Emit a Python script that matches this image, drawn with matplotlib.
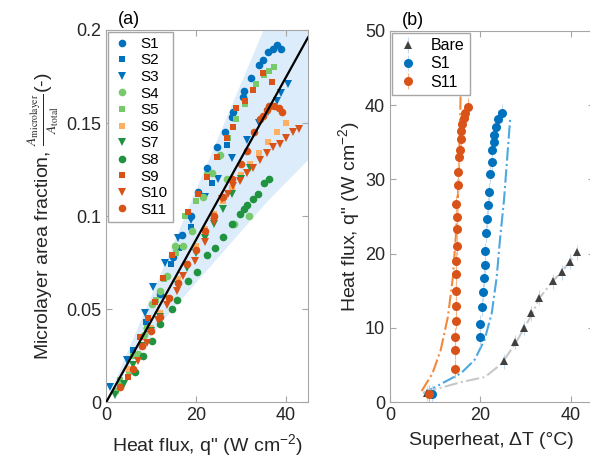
import matplotlib
matplotlib.use('Agg')
import matplotlib.pyplot as plt
import numpy as np

plt.rcParams['font.family'] = ['Liberation Sans', 'DejaVu Sans']
plt.rcParams['mathtext.fontset'] = 'custom'
plt.rcParams['mathtext.rm'] = 'Liberation Sans'
plt.rcParams['mathtext.it'] = 'Liberation Sans:italic'

# ---- panel (a) data: microlayer area fraction vs heat flux ----
s1_x = [9, 12, 15, 17, 19, 20.5, 22.4, 24.7, 26.4, 28, 28.2, 30.4, 30.7, 32.4, 34, 34.9, 36, 37.1, 38, 38.9]
s1_y = [0.040, 0.058, 0.078, 0.090, 0.100, 0.113, 0.126, 0.137, 0.145, 0.153, 0.156, 0.164, 0.167, 0.174, 0.181, 0.184, 0.188, 0.190, 0.192, 0.190]
s2_x = [6, 8.9, 12, 14.5, 16.3, 19, 23.5, 27]
s2_y = [0.028, 0.043, 0.058, 0.074, 0.083, 0.094, 0.118, 0.138]
s3_x = [0.9, 4.7, 8.7, 10.4, 13.1, 16, 19, 22, 25, 28, 31.3, 34, 36, 38, 39, 40.5]
s3_y = [0.008, 0.0226, 0.048, 0.062, 0.075, 0.088, 0.098, 0.110, 0.120, 0.131, 0.141, 0.150, 0.156, 0.162, 0.166, 0.171]
s4_x = [2, 3.1, 5, 7, 8.5, 10.2, 12, 13.5, 15.3, 17.1, 19.1, 21.5, 23.6, 25.3, 27, 28.5, 31.8]
s4_y = [0.006, 0.010, 0.017, 0.026, 0.036, 0.053, 0.060, 0.068, 0.084, 0.084, 0.092, 0.110, 0.123, 0.133, 0.120, 0.096, 0.100]
s5_x = [3, 6, 9, 11, 13, 15.5, 17.6, 20, 22.5, 25, 27.1, 29, 30.9, 33.5, 35.3, 36.4, 37.5]
s5_y = [0.012, 0.025, 0.040, 0.055, 0.066, 0.080, 0.100, 0.108, 0.122, 0.132, 0.142, 0.152, 0.160, 0.171, 0.176, 0.178, 0.180]
s6_x = [5, 8, 10, 12, 14, 16, 18, 20, 22, 24, 26, 28, 30, 32, 34, 36, 38, 40]
s6_y = [0.018, 0.030, 0.040, 0.048, 0.056, 0.066, 0.074, 0.084, 0.093, 0.101, 0.108, 0.115, 0.122, 0.128, 0.134, 0.140, 0.145, 0.150]
s7_x = [2, 4, 6, 8, 10, 12, 14, 16, 18, 20, 22, 24, 26, 28, 30, 32]
s7_y = [0.004, 0.010, 0.020, 0.030, 0.038, 0.046, 0.055, 0.063, 0.072, 0.080, 0.088, 0.096, 0.104, 0.112, 0.120, 0.126]
s8_x = [6.4, 8.2, 10.2, 12, 14.6, 15.8, 18.2, 20.2, 22.4, 24.2, 26, 28, 29.8, 30.7, 31.3, 32.7, 33.8, 35.3, 36.4]
s8_y = [0.016, 0.025, 0.033, 0.042, 0.050, 0.055, 0.065, 0.070, 0.079, 0.083, 0.089, 0.096, 0.101, 0.104, 0.106, 0.109, 0.112, 0.118, 0.120]
s9_x = [4.9, 7.5, 9.4, 10.9, 12.7, 14.6, 18.3, 20.5, 22.4, 24.6, 26.9, 28.3, 29, 30.9, 32.7, 35, 37]
s9_y = [0.0134, 0.035, 0.045, 0.054, 0.067, 0.079, 0.102, 0.112, 0.121, 0.132, 0.142, 0.148, 0.158, 0.162, 0.168, 0.177, 0.172]
s10_x = [7, 9, 11.6, 13.5, 15.8, 17.1, 19.8, 22, 24, 25.8, 27.1, 28.2, 29.8, 31.3, 32.7, 34.2, 35.8, 37.1, 38.7, 40.2, 41.6, 43]
s10_y = [0.022, 0.032, 0.044, 0.052, 0.060, 0.068, 0.076, 0.086, 0.097, 0.109, 0.112, 0.116, 0.119, 0.123, 0.126, 0.130, 0.134, 0.137, 0.139, 0.142, 0.145, 0.147]
s11_x = [3, 6, 8, 10, 12, 14, 16, 18, 20, 22, 24, 26, 28, 30, 31.5, 33, 34.2, 35, 35.8, 36.4, 37.5, 38.5, 39.3]
s11_y = [0.008, 0.018, 0.030, 0.038, 0.046, 0.056, 0.064, 0.074, 0.082, 0.092, 0.100, 0.110, 0.120, 0.128, 0.135, 0.145, 0.152, 0.154, 0.157, 0.159, 0.159, 0.158, 0.156]

fit_x = [0, 45]
fit_y = [0, 0.196]
band_x = [0, 3, 12, 36, 45]
band_lo = [0, 0.012, 0.042, 0.108, 0.13]
band_hi = [0, 0.017, 0.068, 0.205, 0.256]

# ---- panel (b) data: boiling curves ----
bare_x = [8.2, 25.2, 27.7, 29.7, 31.2, 33, 36, 38, 39.8, 41.3]
bare_y = [1.2, 5.5, 8.1, 10, 12, 14.1, 16.3, 17.5, 18.9, 20.2]
b1_x = [9.2, 19.8, 20.0, 20.3, 20.5, 20.7, 20.9, 21.1, 21.3, 21.5, 21.7, 21.9, 22.2, 22.5, 22.6, 22.9, 23.1, 23.4, 23.8, 24.7]
b1_y = [1.1, 8.8, 10.6, 12.8, 14.8, 16.7, 18.5, 20.3, 22.8, 24.7, 26.5, 28.3, 30.7, 32.3, 34, 35, 36, 37, 38.1, 39]
b11_x = [8.6, 14.3, 14.4, 14.4, 14.5, 14.6, 14.6, 14.7, 14.7, 14.8, 14.8, 14.8, 14.6, 15, 15.1, 15.3, 15.4, 15.6, 15.8, 16.0, 16.3, 16.6, 17.3]
b11_y = [1.1, 4.5, 7, 8.8, 11, 13, 15, 17.2, 19, 21, 23.3, 25, 26.7, 29.3, 31, 33, 34, 35.5, 36.5, 37.5, 38.3, 39.0, 39.8]

fitb11_x = [7, 9.4, 11.2, 12.8, 13.9, 14.6, 15, 15.3, 15.5, 15.7]
fitb11_y = [1.5, 3.9, 7, 11.5, 16.8, 22.8, 27, 33, 38, 44]
fitb1_x = [7.4, 12, 15.7, 18.7, 20.9, 22.5, 23.6, 24.3, 25.2, 26.6]
fitb1_y = [1.2, 2.7, 3.9, 5.7, 8.4, 12, 16.9, 21.8, 27.2, 38.4]
fitbare_x = [7.4, 15.7, 21, 24.7, 27.7, 29.7, 31.5, 33, 36, 38, 39.8, 41.5]
fitbare_y = [1.3, 2.7, 3.4, 5.2, 7.9, 10, 12, 14, 16.3, 17.6, 19, 20.2]

blue = '#0072BD'
red = '#D95319'
lgreen = '#77C96B'
dgreen = '#1F9340'
lorange = '#FDAF62'
spine = '#a6a6a6'

fig = plt.figure(figsize=(5.9, 4.76), dpi=100)
ax1 = fig.add_axes([0.180, 0.155, 0.342, 0.782])
ax2 = fig.add_axes([0.661, 0.155, 0.345, 0.780])

for ax in (ax1, ax2):
    for s in ax.spines.values():
        s.set_color(spine)
    ax.tick_params(direction='in', top=True, right=True, color=spine,
                   labelsize=13, labelcolor='#262626', length=4)

# panel a
ax1.fill_between(band_x, band_lo, band_hi, color='#dcecfb', lw=0, zorder=0)
series = [
    (s1_x, s1_y, 'o', blue, 'S1'),
    (s2_x, s2_y, 's', blue, 'S2'),
    (s3_x, s3_y, 'v', blue, 'S3'),
    (s4_x, s4_y, 'o', lgreen, 'S4'),
    (s5_x, s5_y, 's', lgreen, 'S5'),
    (s6_x, s6_y, 's', lorange, 'S6'),
    (s7_x, s7_y, 'v', dgreen, 'S7'),
    (s8_x, s8_y, 'o', dgreen, 'S8'),
    (s9_x, s9_y, 's', red, 'S9'),
    (s10_x, s10_y, 'v', red, 'S10'),
    (s11_x, s11_y, 'o', red, 'S11'),
]
for x, y, m, c, lab in series:
    ax1.plot(x, y, m, color=c, ms=5.5 if m != 's' else 4.8, mew=0, label=lab, zorder=2)
ax1.plot(fit_x, fit_y, color='k', lw=1.6, zorder=3)
ax1.set_xlim(0, 45)
ax1.set_ylim(0, 0.2)
ax1.set_xticks([0, 20, 40])
ax1.set_yticks([0, 0.05, 0.1, 0.15, 0.2])
ax1.set_yticklabels(['0', '0.05', '0.1', '0.15', '0.2'])
ax1.set_xlabel('Heat flux, q" (W cm$^{\\mathrm{-2}}$)', fontsize=14, color='#262626', labelpad=6)
ax1.set_ylabel(r'Microlayer area fraction, $\frac{A_{\mathrm{microlayer}}}{A_{\mathrm{total}}}$(-)',
               fontsize=14, color='#262626', math_fontfamily='stix', labelpad=4)
leg1 = ax1.legend(loc='upper left', fontsize=11, frameon=True, fancybox=False,
                  borderpad=0.35, labelspacing=0.17, handletextpad=0.6, handlelength=1.2,
                  borderaxespad=0.1, framealpha=1)
leg1.get_frame().set_edgecolor(spine)
ax1.text(0.06, 1.005, '(a)', transform=ax1.transAxes, fontsize=13, va='bottom')

# panel b
ax2.plot(fitb11_x, fitb11_y, '-.', color='#F4883A', lw=1.5, zorder=1)
ax2.plot(fitb1_x, fitb1_y, '-.', color='#4DA8E0', lw=1.5, zorder=1)
ax2.plot(fitbare_x, fitbare_y, '-.', color='#c8c8c8', lw=1.5, zorder=1)
ax2.errorbar(bare_x, bare_y, yerr=1.0, fmt='^', color='#404040', ms=6, mew=0,
             ecolor='#c6dbef', elinewidth=0.8, capsize=2, label='Bare', zorder=2)
ax2.errorbar(b1_x, b1_y, yerr=1.2, fmt='o', color=blue, ms=6.5, mew=0,
             ecolor='#c6dbef', elinewidth=0.8, capsize=2, label='S1', zorder=2)
ax2.errorbar(b11_x, b11_y, yerr=1.2, fmt='o', color=red, ms=6.5, mew=0,
             ecolor='#f5b58a', elinewidth=0.8, capsize=2, label='S11', zorder=3)
ax2.set_xlim(0, 45)
ax2.set_ylim(0, 50)
ax2.set_xticks([0, 20, 40])
ax2.set_yticks([0, 10, 20, 30, 40, 50])
ax2.set_xlabel('Superheat, ΔT (°C)', fontsize=14, color='#262626', labelpad=6)
ax2.set_ylabel('Heat flux, q" (W cm$^{\\mathrm{-2}}$)', fontsize=14, color='#262626', labelpad=2)
leg2 = ax2.legend(loc='upper left', fontsize=11.5, frameon=True, fancybox=False,
                  borderpad=0.35, labelspacing=0.2, handletextpad=0.7, handlelength=1.4,
                  borderaxespad=0.1, framealpha=1)
leg2.get_frame().set_edgecolor(spine)
ax2.text(0.06, 1.005, '(b)', transform=ax2.transAxes, fontsize=13, va='bottom')

fig.savefig('out.png', dpi=100)
